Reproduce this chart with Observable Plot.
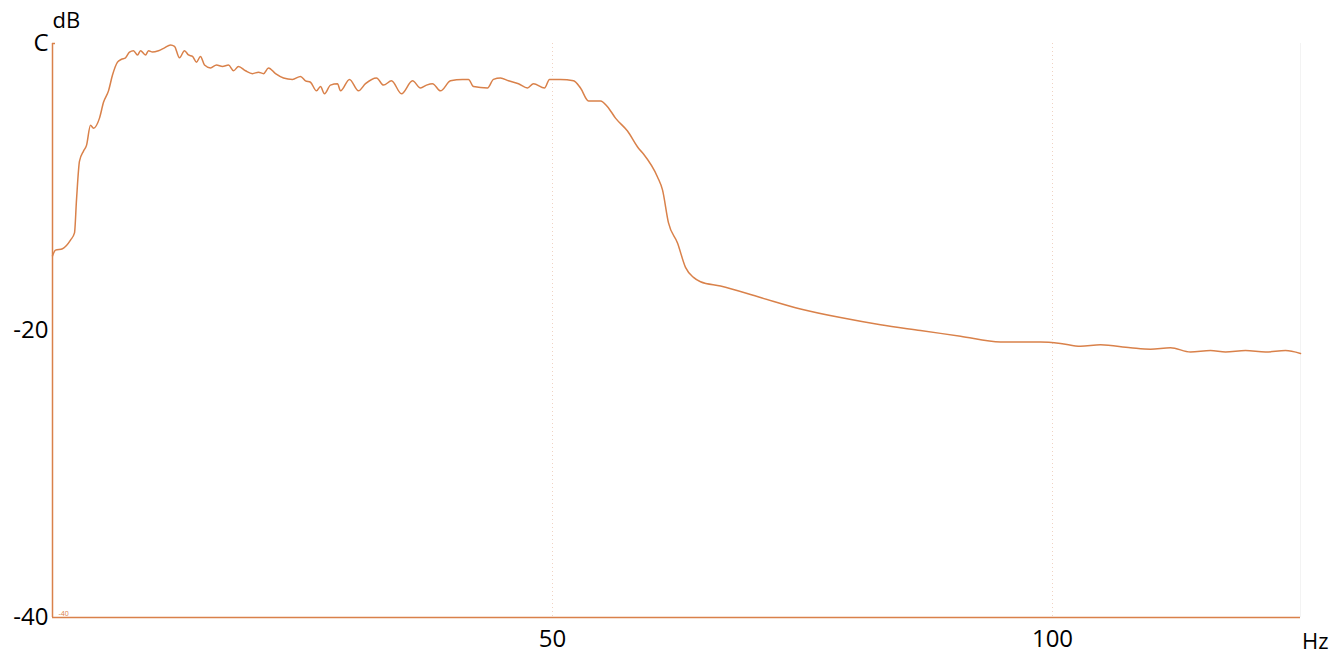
<!DOCTYPE html>
<html><head><meta charset="utf-8">
<script src="https://cdn.jsdelivr.net/npm/d3@7"></script>
<script src="https://cdn.jsdelivr.net/npm/@observablehq/plot@0.6"></script>
<style>body{margin:0;background:#fff}</style>
</head><body><div id="chart"></div>
<script>
const freq = [0,0.3,1.0,1.8,2.2,2.4,2.7,3.1,3.4,3.8,4.1,4.7,5.1,5.6,6.0,6.5,6.9,7.3,7.7,8.1,8.5,8.8,9.3,9.6,10.0,10.6,11.2,11.8,12.2,12.7,13.2,13.6,14.0,14.4,14.8,15.2,15.8,16.4,17.0,17.6,18.1,18.6,19.3,20.0,20.6,21.1,21.6,22.3,23.1,24.0,24.8,25.3,25.8,26.4,26.8,27.2,27.8,28.5,28.8,29.7,30.6,31.3,32.4,33.1,33.9,34.9,36.0,36.8,37.4,38.0,38.8,39.8,41.0,41.6,42.1,43.5,44.1,44.8,45.6,46.6,47.5,48.1,49.2,49.7,50.8,52.1,52.8,53.6,54.8,55.5,56.3,57.5,58.6,59.1,60.5,61.0,61.6,62.5,63.3,64.1,64.8,66.8,70.8,74.8,78.8,82.8,86.8,90.8,94.8,98.8,100.8,102.8,104.8,107.8,109.8,111.8,113.8,115.8,117.3,119.3,121.3,123.3,124.8];
const level = [-14.8,-14.4,-14.3,-13.7,-13.2,-10.9,-8.2,-7.5,-7.1,-5.7,-5.9,-5.2,-4.1,-3.3,-2.2,-1.3,-1.1,-1.0,-0.6,-0.5,-0.8,-0.5,-0.8,-0.5,-0.6,-0.5,-0.3,-0.1,-0.2,-1.0,-0.5,-0.8,-0.9,-1.3,-0.9,-1.5,-1.7,-1.5,-1.6,-1.5,-1.9,-1.6,-1.9,-2.1,-2.0,-2.1,-1.7,-2.1,-2.4,-2.5,-2.3,-2.6,-2.7,-3.3,-3.0,-3.5,-2.9,-2.8,-3.3,-2.5,-3.3,-2.8,-2.4,-2.9,-2.6,-3.5,-2.6,-3.1,-2.9,-2.8,-3.3,-2.6,-2.5,-2.5,-3.0,-3.1,-2.5,-2.4,-2.6,-2.8,-3.1,-2.8,-3.1,-2.5,-2.5,-2.6,-3.1,-4.0,-4.0,-4.4,-5.2,-6.1,-7.3,-7.7,-9.3,-10.2,-12.5,-13.9,-15.6,-16.3,-16.6,-16.9,-17.7,-18.5,-19.1,-19.6,-20.0,-20.4,-20.8,-20.8,-20.9,-21.1,-21.0,-21.2,-21.3,-21.2,-21.5,-21.4,-21.5,-21.4,-21.5,-21.4,-21.6];
const yTicks = [0, -20, -40];
const yTickLabels = ["C", "-20", "-40"];
const xTicks = [50, 100];
const data = freq.map((f, i) => ({f, db: level[i]}));
const orange = "#d9814a";
const chart = Plot.plot({
  width: 1341, height: 660,
  marginLeft: 52, marginRight: 41, marginTop: 43, marginBottom: 43,
  style: {fontFamily: "Open Sans", fontSize: 24, color: "#000"},
  x: {domain: [0, 124.8]},
  y: {domain: [-40, 0]},
  marks: [
    Plot.ruleX(xTicks, {stroke: "#f0d2c2", strokeDasharray: "1,3", strokeWidth: 1}),
    Plot.ruleX([124.8], {stroke: "#f3f3f3"}),
    Plot.axisY(yTicks, {tickSize: 0, tickPadding: 4, tickFormat: (d, i) => yTickLabels[i], fontSize: 24, label: null}),
    Plot.axisX(xTicks, {tickSize: 0, tickPadding: 12, fontSize: 24, label: null}),
    Plot.ruleX([0], {stroke: orange, strokeWidth: 1.5}),
    Plot.ruleY([-40], {stroke: orange, strokeWidth: 1.5}),
    Plot.ruleY([0], {x1: 0, x2: 0.3, stroke: orange, strokeWidth: 1.5}),
    Plot.text(["-40"], {x: 0.6, y: -40, dy: -4, textAnchor: "start", fontSize: 7, fill: orange}),
    Plot.line(data, {x: "f", y: "db", stroke: orange, strokeWidth: 1.5, curve: "monotone-x"}),
    Plot.text(["dB"], {frameAnchor: "top-left", dx: 0, dy: -31, textAnchor: "start", fontSize: 22}),
    Plot.text(["Hz"], {frameAnchor: "bottom-right", dx: 28, dy: 31, fontSize: 22})
  ]
});
document.getElementById("chart").append(chart);
</script></body></html>
